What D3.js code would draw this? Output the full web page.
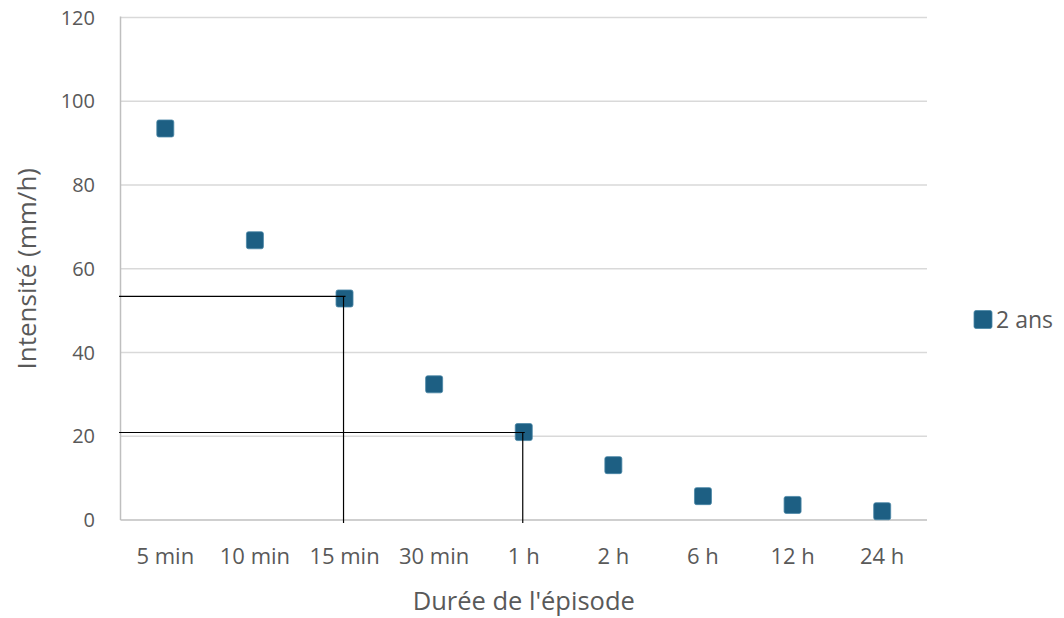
<!DOCTYPE html>
<html>
<head>
<meta charset="utf-8">
<script src="https://cdn.jsdelivr.net/npm/d3@7/dist/d3.min.js"></script>
<style>
  html, body { margin: 0; padding: 0; background: #fff; }
  svg { display: block; font-family: "Open Sans", Lato, sans-serif; }
</style>
</head>
<body>
<svg id="chart" width="1064" height="618"></svg>
<script>
const categories = ["5 min", "10 min", "15 min", "30 min", "1 h", "2 h", "6 h", "12 h", "24 h"];
const values2ans = [93.5, 66.8, 52.9, 32.4, 21.0, 13.1, 5.7, 3.6, 2.1];
const yTicks = [0, 20, 40, 60, 80, 100, 120];
const refCategories = ["15 min", "1 h"];
const refValues = [53.4, 20.9];
const seriesName = "2 ans";
const xTitle = "Durée de l'épisode";
const yTitle = "Intensité (mm/h)";

const svg = d3.select("#chart");
const pLeft = 120.5, pRight = 927, pTop = 17.5, pBottom = 520;
const textColor = "#595959";
const markerColor = "#1d5f83";

const x = d3.scaleBand().domain(categories).range([pLeft, pRight]);
const y = d3.scaleLinear().domain([0, 120]).range([pBottom, pTop]);

// gridlines
svg.append("g").selectAll("line").data(yTicks.filter(d => d > 0)).join("line")
  .attr("x1", pLeft).attr("x2", pRight)
  .attr("y1", d => y(d)).attr("y2", d => y(d))
  .attr("stroke", "#d9d9d9").attr("stroke-width", 1.5);

// axes lines
svg.append("line").attr("x1", pLeft).attr("x2", pLeft).attr("y1", pTop - 1).attr("y2", pBottom)
  .attr("stroke", "#bfbfbf").attr("stroke-width", 1.5);
svg.append("line").attr("x1", pLeft).attr("x2", pRight).attr("y1", pBottom).attr("y2", pBottom)
  .attr("stroke", "#bfbfbf").attr("stroke-width", 1.5);

// y tick labels
svg.append("g").selectAll("text").data(yTicks).join("text")
  .attr("x", 95).attr("y", d => y(d)).attr("dy", "0.36em")
  .attr("text-anchor", "end").attr("fill", textColor)
  .attr("font-size", 20).text(d => d);

// x tick labels
svg.append("g").selectAll("text").data(categories).join("text")
  .attr("x", d => x(d) + x.bandwidth() / 2).attr("y", 556).attr("dy", "0.36em")
  .attr("text-anchor", "middle").attr("fill", textColor)
  .attr("font-size", 22).text(d => d);

// axis titles
svg.append("text").attr("x", (pLeft + pRight) / 2).attr("y", 601).attr("dy", "0.36em")
  .attr("text-anchor", "middle").attr("fill", textColor).attr("font-size", 25.5).text(xTitle);
svg.append("text").attr("transform", `translate(27, ${(pTop + pBottom) / 2}) rotate(-90)`)
  .attr("dy", "0.36em").attr("text-anchor", "middle").attr("fill", textColor)
  .attr("font-size", 26).text(yTitle);

// markers
const s = 17;
svg.append("g").selectAll("rect").data(categories.map((c, i) => ({ c, v: values2ans[i] }))).join("rect")
  .attr("x", d => x(d.c) + x.bandwidth() / 2 - s / 2)
  .attr("y", d => y(d.v) - s / 2)
  .attr("width", s).attr("height", s).attr("rx", 2)
  .attr("fill", markerColor).attr("stroke", "#4a86a6").attr("stroke-width", 0.8);

// reference lines (drawn over markers)
const refs = refCategories.map((c, i) => ({ c, v: refValues[i] }));
const gRef = svg.append("g");
refs.forEach(r => {
  const cx = x(r.c) + x.bandwidth() / 2;
  gRef.append("line").attr("x1", pLeft - 1.5).attr("x2", cx + 1).attr("y1", y(r.v)).attr("y2", y(r.v))
    .attr("stroke", "#000").attr("stroke-width", 1.2);
  gRef.append("line").attr("x1", cx - 1).attr("x2", cx - 1).attr("y1", y(r.v)).attr("y2", pBottom + 3)
    .attr("stroke", "#000").attr("stroke-width", 1.2);
});

// legend
svg.append("rect").attr("x", 974).attr("y", 310.5).attr("width", 18).attr("height", 18).attr("rx", 2)
  .attr("fill", markerColor).attr("stroke", "#4a86a6").attr("stroke-width", 0.8);
svg.append("text").attr("x", 996).attr("y", 320).attr("dy", "0.36em")
  .attr("fill", textColor).attr("font-size", 23).text(seriesName);
</script>
</body>
</html>
